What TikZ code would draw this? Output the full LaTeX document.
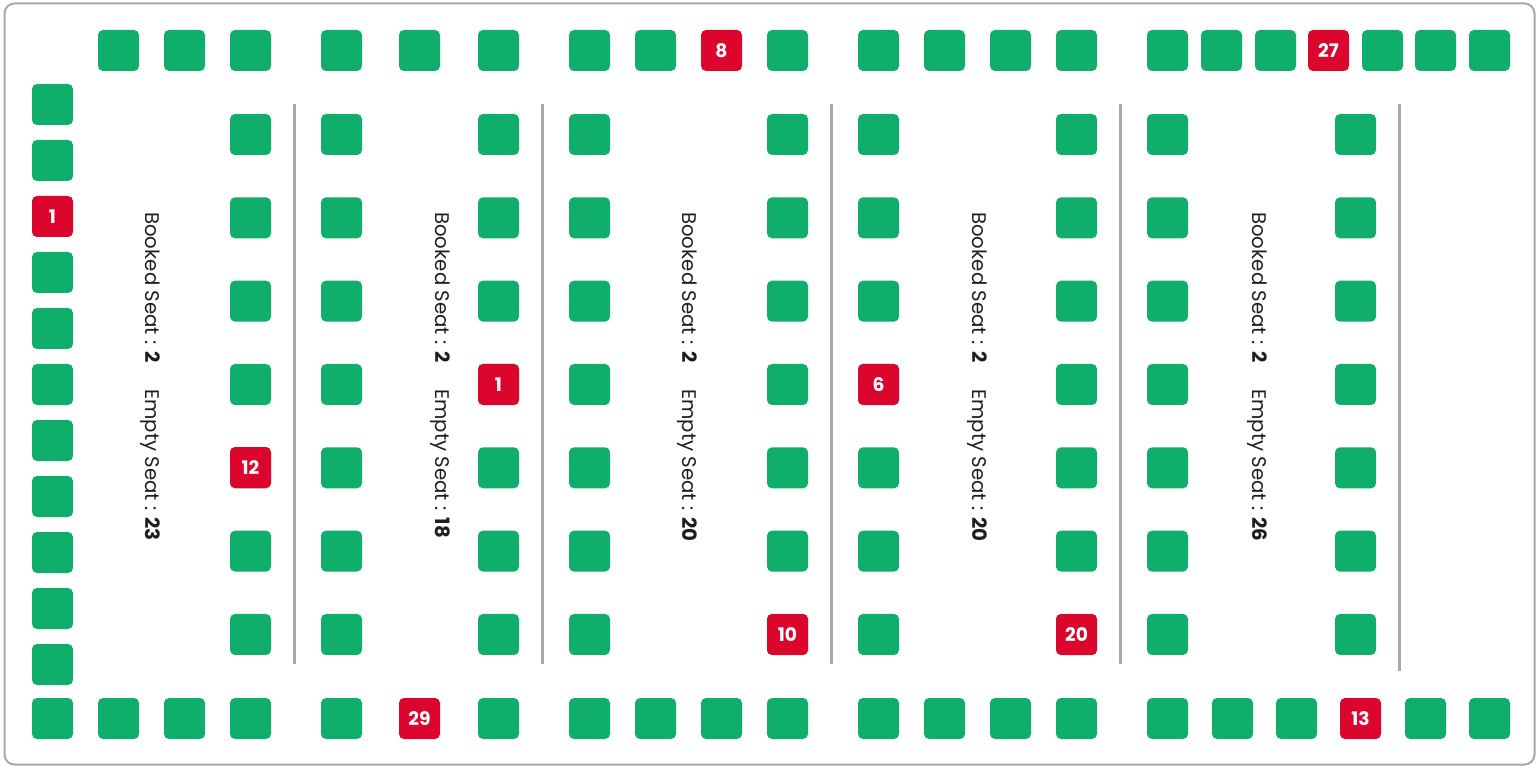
\documentclass[tikz,border=0pt]{standalone}
\usepackage{fontspec}
\setmainfont{Poppins}
\definecolor{seatgreen}{RGB}{16,174,107}
\definecolor{seatred}{RGB}{220,5,45}
\definecolor{linegray}{RGB}{168,168,168}
\definecolor{infotext}{RGB}{30,30,30}
\tikzset{
  seat/.style={draw=none, fill=seatgreen, rounded corners=3.75pt, minimum size=30.75pt, inner sep=0pt},
  booked/.style={seat, fill=seatred, text=white, font=\bfseries\fontsize{14}{14}\selectfont},
  divider/.style={draw=linegray, line width=2.25pt},
  info/.style={rotate=-90, anchor=west, inner sep=0pt, text=infotext, font=\fontsize{14.8}{14.8}\selectfont}
}
\begin{document}
\begin{tikzpicture}[x=0.75pt, y=-0.75pt]
  \useasboundingbox (0,0) rectangle (1538,766);
  % frame
  \draw[linegray, line width=1.5pt, rounded corners=7.5pt] (4.5,3.5) rectangle (1534.5,764.5);

  % top row
  \foreach \x [count=\i] in {118.5,184.5,250.5,341.5,419.5,498.5,589.5,655.5,787.5,878.5,944.5,1010.5,1076.5,1167.5,1221.5,1275.5,1382.5,1435.5,1489.5}
    \node[seat] (top\i) at (\x,50.5) {};
  \node[booked] (top8b) at (721.5,50.5) {8};
  \node[booked] (top27b) at (1328.5,50.5) {27};

  % bottom row
  \foreach \x [count=\i] in {52.5,118.5,184.5,250.5,341.5,498.5,589.5,655.5,721.5,787.5,878.5,944.5,1010.5,1076.5,1167.5,1232.5,1296.5,1425.5,1489.5}
    \node[seat] (bot\i) at (\x,718.5) {};
  \node[booked] (bot29b) at (419.5,718.5) {29};
  \node[booked] (bot13b) at (1360.5,718.5) {13};

  % left column
  \foreach \k in {0,1,3,4,5,6,7,8,9,10}
    \node[seat] (left\k) at (52.5,104.5+56*\k) {};
  \node[booked] (left1b) at (52.5,216.5) {1};

  % inner columns
  \foreach \x [count=\c] in {250.5,341.5,498.5,589.5,787.5,878.5,1076.5,1167.5,1355.5}
    \foreach \r in {0,...,6}
      \node[seat] (col\c-\r) at (\x,134.5+83.33*\r) {};
  \node[booked] (col1b) at (250.5,467.5) {12};
  \node[booked] (col3b) at (498.5,384.5) {1};
  \node[booked] (col5b) at (787.5,634.5) {10};
  \node[booked] (col6b) at (878.5,384.5) {6};
  \node[booked] (col7b) at (1076.5,634.5) {20};

  % dividers
  \draw[divider] (294,104) -- (294,664);
  \draw[divider] (542,104) -- (542,664);
  \draw[divider] (831,104) -- (831,664);
  \draw[divider] (1120,104) -- (1120,664);
  \draw[divider] (1399,104) -- (1399,671);

  % seat counts
  \node[info] (info1) at (150,212) {Booked Seat : \textbf{2}\hspace{20pt}Empty Seat : \textbf{23}};
  \node[info] (info2) at (440,212) {Booked Seat : \textbf{2}\hspace{20pt}Empty Seat : \textbf{18}};
  \node[info] (info3) at (687,212) {Booked Seat : \textbf{2}\hspace{20pt}Empty Seat : \textbf{20}};
  \node[info] (info4) at (977,212) {Booked Seat : \textbf{2}\hspace{20pt}Empty Seat : \textbf{20}};
  \node[info] (info5) at (1257,212) {Booked Seat : \textbf{2}\hspace{20pt}Empty Seat : \textbf{26}};
\end{tikzpicture}
\end{document}
